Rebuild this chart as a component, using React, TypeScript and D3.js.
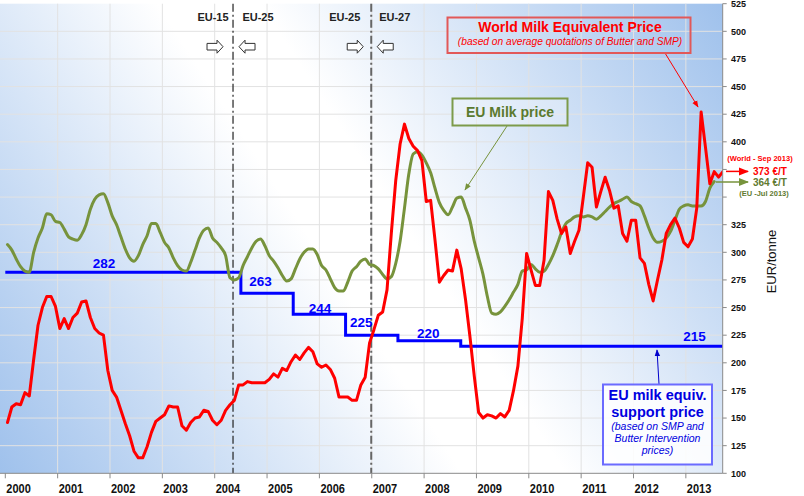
import React from 'react';
import * as d3 from 'd3';

// ---------- DATA ----------
const startYear = 2000;
// World Milk Equivalent Price, EUR/tonne, monthly Jan 2000 - Sep 2013
const worldPrice = [
  146, 160, 163, 162, 173, 170, 203, 234, 250, 260, 260, 251,
  231, 240, 231, 241, 245, 255, 256, 241, 231, 227, 225, 193,
  175, 169, 157, 145, 134, 120, 114, 114, 124, 137, 147, 150,
  153, 161, 160, 160, 143, 139, 146, 150, 151, 157, 156, 148,
  144, 148, 157, 162, 166, 180, 180, 183, 182, 182, 182, 182,
  185, 190, 187, 195, 193, 201, 207, 203, 209, 214, 210, 199,
  196, 198, 194, 186, 169, 169, 169, 166, 166, 180, 187, 218,
  230, 243, 246, 266, 318, 365, 398, 416, 403, 396, 392, 383,
  346, 347, 311, 273, 279, 284, 283, 302, 285, 257, 224, 188,
  155, 150, 153, 152, 150, 154, 151, 157, 175, 197, 240, 299,
  284, 270, 270, 293, 355, 347, 330, 317, 323, 299, 310, 320,
  350, 381, 377, 341, 355, 368, 356, 340, 342, 317, 310, 329,
  329, 295, 290, 271, 256, 275, 293, 317, 325, 331, 322, 309,
  305, 312, 340, 427, 395, 362, 373, 368, 373,
];
// EU Milk price, EUR/tonne, monthly Jan 2000 - Jul 2013
const euPrice = [
  307, 302, 294, 287, 283, 282, 300, 313, 322, 335, 334, 328,
  327, 321, 314, 312, 311, 316, 325, 339, 348, 352, 353, 345,
  333, 325, 314, 303, 295, 292, 297, 307, 315, 326, 326, 318,
  309, 304, 295, 288, 284, 283, 291, 302, 313, 320, 322, 313,
  309, 304, 297, 277, 275, 277, 288, 296, 304, 310, 312, 306,
  297, 292, 286, 279, 274, 276, 285, 294, 300, 303, 303, 298,
  288, 284, 276, 268, 265, 265, 273, 283, 287, 292, 294, 289,
  288, 285, 280, 276, 278, 290, 310, 340, 371, 389, 391, 388,
  381, 372, 358, 345, 338, 334, 341, 349, 350, 340, 329, 310,
  295, 280, 260, 245, 244, 246, 251, 257, 264, 271, 283, 284,
  289, 285, 282, 283, 289, 297, 307, 318, 326, 329, 332, 333,
  332, 333, 332, 330, 333, 337, 341, 344, 346, 348, 350, 346,
  344, 342, 333, 322, 313, 309, 310, 313, 319, 329, 339, 342,
  343, 342, 342, 342, 346, 358, 364,
];
// EU milk equivalent support price steps
const supportStart = [2000, 2004.5, 2005.5, 2006.5, 2007.5, 2008.7];
const supportValue = [282, 263, 244, 225, 220, 215];
const supportEnd = 2013.7;
const supportLabelT = [2001.885, 2004.875, 2006.01, 2006.8, 2008.08, 2013.165];

const yearTicks = [2000, 2001, 2002, 2003, 2004, 2005, 2006, 2007, 2008, 2009, 2010, 2011, 2012, 2013];
const valueTicks = [100, 125, 150, 175, 200, 225, 250, 275, 300, 325, 350, 375, 400, 425, 450, 475, 500, 525];
// tick labels hidden behind the latest-value annotations
const hiddenTickLabels = [350, 375];

const enlargements = [
  { t: 2004.35, before: 'EU-15', after: 'EU-25' },
  { t: 2006.99, before: 'EU-25', after: 'EU-27' },
];

const FONT = '"Liberation Sans", Arial, Helvetica, sans-serif';
const RED = '#ff0000';
const GREEN = '#77933c';
const BLUE = '#0000ff';

export default function App() {
  const W = 804, H = 496;
  const x = d3.scaleLinear().domain([2000, 2013.7]).range([5.3, 722.5]);
  const y = d3.scaleLinear().domain([100, 525]).range([473.3, 3.7]);
  const axisX = 722.7;
  const top = y(525), bottom = y(100);
  const tOf = (i: number) => startYear + (i + 0.5) / 12;

  const redLine = d3.line<number>()
    .x((_d, i) => x(tOf(i)))
    .y((d) => y(d))
    .curve(d3.curveLinear);
  const greenLine = d3.line<number>()
    .x((_d, i) => x(tOf(i)))
    .y((d) => y(d))
    .curve(d3.curveMonotoneX);

  const stepPts: [number, number][] = supportStart.map((t, k) => [t, supportValue[k]]);
  stepPts.push([supportEnd, supportValue[supportValue.length - 1]]);
  const stepLine = d3.line<[number, number]>()
    .x((d) => x(d[0]))
    .y((d) => y(d[1]))
    .curve(d3.curveStepAfter);

  const labelDy = [-4.5, -7.5, -1, -8.5, -3, -5.3];

  const rightArrow = (x0: number, c: number) =>
    `M${x0},${c - 3.3} L${x0 + 10},${c - 3.3} L${x0 + 10},${c - 6.5} L${x0 + 16},${c} L${x0 + 10},${c + 6.5} L${x0 + 10},${c + 3.3} L${x0},${c + 3.3} Z`;
  const leftArrow = (x0: number, c: number) =>
    `M${x0 + 16},${c - 3.3} L${x0 + 6},${c - 3.3} L${x0 + 6},${c - 6.5} L${x0},${c} L${x0 + 6},${c + 6.5} L${x0 + 6},${c + 3.3} L${x0 + 16},${c + 3.3} Z`;

  const labelOffsets = [[-20, 25], [-26.5, 23.5]];
  const arrowOffsets = [[-26, 6], [-24, 6]];

  return (
    <svg width={W} height={H} viewBox={`0 0 ${W} ${H}`}
      style={{ position: 'absolute', left: 0, top: 0, background: '#fff' }}
      fontFamily={FONT}>
      <defs>
        <linearGradient id="bg" gradientUnits="userSpaceOnUse" x1={0} y1={bottom} x2={axisX} y2={top}>
          <stop offset="0" stopColor="#9fc1ec" />
          <stop offset="0.45" stopColor="#ffffff" />
          <stop offset="0.55" stopColor="#ffffff" />
          <stop offset="1" stopColor="#9fc1ec" />
        </linearGradient>
        <clipPath id="plot">
          <rect x={0} y={top} width={axisX} height={bottom - top} />
        </clipPath>
        <marker id="mRed" viewBox="0 0 10 10" refX="9" refY="5" markerWidth="7" markerHeight="7" orient="auto">
          <path d="M0,1 L10,5 L0,9 Z" fill={RED} />
        </marker>
        <marker id="mGreen" viewBox="0 0 10 10" refX="9" refY="5" markerWidth="7" markerHeight="7" orient="auto">
          <path d="M0,1 L10,5 L0,9 Z" fill={GREEN} />
        </marker>
        <marker id="mBlue" viewBox="0 0 10 10" refX="9" refY="5" markerWidth="7" markerHeight="7" orient="auto">
          <path d="M0,1 L10,5 L0,9 Z" fill="#0000cc" />
        </marker>
      </defs>

      {/* plot background */}
      <rect x={0} y={top} width={axisX} height={bottom - top} fill="url(#bg)" />

      {/* gridlines */}
      <g stroke="#e2e2e2" strokeWidth={1}>
        {valueTicks.slice(1, -1).map((v) => (
          <line key={'h' + v} x1={0} x2={axisX} y1={y(v)} y2={y(v)} />
        ))}
        {yearTicks.slice(1).map((yr) => (
          <line key={'v' + yr} x1={x(yr)} x2={x(yr)} y1={top} y2={bottom} />
        ))}
      </g>

      {/* enlargement boundaries */}
      {enlargements.map((e, k) => (
        <line key={'b' + k} x1={x(e.t)} x2={x(e.t)} y1={top} y2={bottom}
          stroke={k === 0 ? '#222' : '#666'} strokeWidth={k === 0 ? 1.2 : 2}
          strokeDasharray="8,3,2,3" />
      ))}
      {enlargements.map((e, k) => (
        <g key={'bl' + k} fontSize={11} fontWeight="bold" fill="#222" textAnchor="middle">
          <text x={x(e.t) + labelOffsets[k][0]} y={20.5}>{e.before}</text>
          <text x={x(e.t) + labelOffsets[k][1]} y={20.5}>{e.after}</text>
          <path d={rightArrow(x(e.t) + arrowOffsets[k][0], 46.7)} fill="#fff" stroke="#333" strokeWidth={1} />
          <path d={leftArrow(x(e.t) + arrowOffsets[k][1], 46.7)} fill="#fff" stroke="#333" strokeWidth={1} />
        </g>
      ))}

      {/* series */}
      <g clipPath="url(#plot)" fill="none" strokeLinejoin="round" strokeLinecap="round">
        <path d={stepLine(stepPts) || ''} stroke={BLUE} strokeWidth={3} strokeLinecap="butt" strokeLinejoin="miter" />
        <path d={greenLine(euPrice) || ''} stroke={GREEN} strokeWidth={3} />
        <path d={redLine(worldPrice) || ''} stroke={RED} strokeWidth={3} />
      </g>

      {/* support labels */}
      {supportValue.map((v, k) => (
        <text key={'sl' + k} x={x(supportLabelT[k])} y={y(v) + labelDy[k]}
          textAnchor="middle" fontSize={13.5} fontWeight="bold" fill={BLUE}>{v}</text>
      ))}

      {/* bottom axis */}
      <line x1={0} x2={axisX} y1={bottom} y2={bottom} stroke="#8a8a8a" strokeWidth={1} />
      {yearTicks.map((yr) => (
        <g key={'yt' + yr}>
          <line x1={x(yr)} x2={x(yr)} y1={bottom} y2={bottom + 5} stroke="#8a8a8a" />
          <text x={x(yr) + 1} y={492.5} fontSize={13} fontWeight="bold" fill="#111"
            textLength={24.5} lengthAdjust="spacingAndGlyphs">{yr}</text>
        </g>
      ))}

      {/* right axis */}
      <line x1={axisX} x2={axisX} y1={top} y2={bottom} stroke="#8a8a8a" strokeWidth={1} />
      {valueTicks.map((v) => (
        <g key={'vt' + v}>
          <line x1={axisX} x2={axisX + 4} y1={y(v)} y2={y(v)} stroke="#8a8a8a" />
          {hiddenTickLabels.indexOf(v) < 0 && (
            <text x={731} y={y(v) + 3.2} fontSize={9} fontWeight="bold" fill="#111">{v}</text>
          )}
        </g>
      ))}
      <text transform="translate(776,261.5) rotate(-90)" textAnchor="middle" fontSize={13} fill="#111">EUR/tonne</text>

      {/* right-side latest value annotations */}
      <text x={760} y={161} textAnchor="middle" fontSize={7.5} fontWeight="bold" fill={RED}>(World - Sep  2013)</text>
      <line x1={726} x2={748} y1={171.4} y2={171.4} stroke={RED} strokeWidth={1.5} markerEnd="url(#mRed)" />
      <text x={753} y={174.8} fontSize={10} fontWeight="bold" fill={RED}>373 €/T</text>
      <line x1={716} x2={748} y1={182} y2={182} stroke={GREEN} strokeWidth={1.5} markerEnd="url(#mGreen)" />
      <text x={753} y={186} fontSize={10} fontWeight="bold" fill="#5f7a30">364 €/T</text>
      <text x={764} y={196} textAnchor="middle" fontSize={7.5} fontWeight="bold" fill="#5f7a30">(EU -Jul 2013)</text>

      {/* World Milk Equivalent Price callout */}
      <line x1={665} y1={53} x2={698} y2={107} stroke={RED} strokeWidth={1} markerEnd="url(#mRed)" />
      <rect x={447.5} y={17.5} width={243} height={35.5} fill="none" stroke="#e25858" strokeWidth={2} />
      <text x={570} y={32.3} textAnchor="middle" fontSize={14} fontWeight="bold" fill={RED}>World Milk Equivalent Price</text>
      <text x={570} y={45} textAnchor="middle" fontSize={10.2} fontStyle="italic" fill={RED}>(based on average quotations of Butter and SMP)</text>

      {/* EU Milk price callout */}
      <line x1={507} y1={126} x2={465} y2={190} stroke={GREEN} strokeWidth={1} markerEnd="url(#mGreen)" />
      <rect x={452.5} y={98.5} width={115} height={27} fill="rgba(255,255,255,0.25)" stroke="#7d9b4a" strokeWidth={2} />
      <text x={510} y={116.5} textAnchor="middle" fontSize={14} fontWeight="bold" fill="#5b7a2e">EU Milk price</text>

      {/* EU support price callout */}
      <line x1={659} y1={384} x2={657} y2={350} stroke="#0000cc" strokeWidth={1} markerEnd="url(#mBlue)" />
      <rect x={603} y={384.5} width={109} height={80} fill="rgba(255,255,255,0.85)" stroke="#6b6bff" strokeWidth={2} />
      <g textAnchor="middle" fill="#0000e0">
        <text x={657.5} y={399.5} fontSize={14.5} fontWeight="bold">EU milk equiv.</text>
        <text x={657.5} y={416.5} fontSize={14.5} fontWeight="bold">support price</text>
        <text x={657.5} y={429.5} fontSize={10.5} fontStyle="italic">(based on SMP and</text>
        <text x={657.5} y={441.5} fontSize={10.5} fontStyle="italic">Butter Intervention</text>
        <text x={657.5} y={453.5} fontSize={10.5} fontStyle="italic">prices)</text>
      </g>
    </svg>
  );
}
